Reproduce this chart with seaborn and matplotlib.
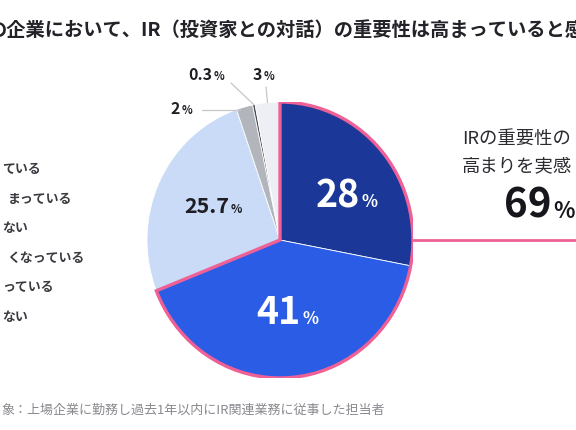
import numpy as np
import matplotlib
matplotlib.use("Agg")
import matplotlib.pyplot as plt
from matplotlib.patches import Wedge
from matplotlib.transforms import IdentityTransform
import seaborn as sns

# === Data ===
answers = ["大いに高まっている", "やや高まっている", "変わらない",
           "やや低くなっている", "低くなっている", "わからない"]
shares = [28, 41, 25.7, 2, 0.3, 3]
share_text = ["28", "41", "25.7", "2", "0.3", "3"]
colors = ["#1b3898", "#2a5ce6", "#c9dbf6", "#b3b5bc", "#4b4c52", "#eeeff4"]
legend_fragments = ["ている", "まっている", "ない", "くなっている", "っている", "ない"]
highlight_total = 69

PINK = "#ef6196"
W, H = 576, 430

sns.set_theme(style="white")
plt.rcParams['font.family'] = ['Noto Sans CJK JP', 'DejaVu Sans']

fig = plt.figure(figsize=(W / 100, H / 100), dpi=100)
fig.patch.set_facecolor("white")

# pie axes: centre (280, 240) px from top-left, radius ~133 x 138 px
cx, cy, rx, ry = 280, 240, 133, 138
ax = fig.add_axes([(cx - rx) / W, (H - cy - ry) / H, 2 * rx / W, 2 * ry / H])

wedges, _ = ax.pie(shares, colors=colors, startangle=90, counterclock=False,
                   radius=1, wedgeprops=dict(edgecolor="white", linewidth=0.6))
ax.set_xlim(-1, 1)
ax.set_ylim(-1, 1)
ax.set_aspect("auto")
ax.axis("off")

# === Pink outline around the "高まっている" share ===
ax.add_patch(Wedge((0, 0), 1, 90 - 360 * highlight_total / 100, 90,
                   fill=False, edgecolor=PINK, linewidth=2.4, zorder=5))
ax.plot([1, 2.3], [0, 0], color=PINK, lw=2.0, clip_on=False, zorder=5)

ident = IdentityTransform()


def top(y):
    return H - y


def pct_label(x, y, num, size, pct_size, color, weight="bold"):
    # x, y in display pixels; number ends at x, smaller % follows
    fig.text(x, y, num, transform=ident, ha="right", va="baseline",
             fontsize=size, fontweight=weight, color=color)
    fig.text(x + 2, y, "%", transform=ident, ha="left", va="baseline",
             fontsize=pct_size, fontweight=weight, color=color)


# cumulative angles (clockwise from top)
bounds = np.cumsum([0] + shares)
mids = (bounds[:-1] + bounds[1:]) / 2 * 3.6


def on_pie(angle_deg, r):
    a = np.radians(angle_deg)
    return ax.transData.transform((r * np.sin(a), r * np.cos(a)))


# === Labels inside the pie ===
for i, (r, size, psize, col, shift, drop) in enumerate([
        (0.60, 27, 12, "white", 18, 20),
        (0.52, 27, 12, "white", 14, 13),
        (0.57, 15.5, 8.5, "#1e1e24", 18, 6)]):
    px, py = on_pie(mids[i], r)
    pct_label(px + shift, py - drop, share_text[i], size, psize, col)

# === Small slices: labels with leader lines ===
small = [
    (3, (180, top(114)), (240, top(110)), (202, top(110))),
    (4, (212, top(80)), None, (231, top(83))),
    (5, (262, top(80)), None, (266, top(87))),
]
inv = fig.transFigure.inverted()
for idx, lab_pos, end_pt, start_pt in small:
    pct_label(lab_pos[0], lab_pos[1], share_text[idx], 11.5, 8, "#1e1e24")
    if end_pt is None:
        end_pt = on_pie(mids[idx], 1.0)
    p0 = inv.transform(start_pt)
    p1 = inv.transform(end_pt)
    fig.add_artist(plt.Line2D([p0[0], p1[0]], [p0[1], p1[1]],
                              color="#c4c6cc", lw=0.9, zorder=1))

# === Right callout ===
fig.text(462, top(139), "IRの重要性の", transform=ident, ha="left",
         va="center", fontsize=13.2, color="#2a2a30")
fig.text(462, top(166), "高まりを実感", transform=ident, ha="left",
         va="center", fontsize=13.2, color="#2a2a30")
fig.text(551, top(218), str(highlight_total), transform=ident, ha="right",
         va="baseline", fontsize=29, fontweight="bold", color="#16161c")
fig.text(553, top(218), "%", transform=ident, ha="left",
         va="baseline", fontsize=16, fontweight="bold", color="#16161c")

# === Legend fragments (cropped on the left) ===
legend_x = [2, 8, 2, 7, 2, 2]
legend_y = [169, 199, 228, 258, 287, 317]
for txt, lx, ly in zip(legend_fragments, legend_x, legend_y):
    fig.text(lx, top(ly), txt, transform=ident, ha="left", va="center",
             fontsize=9.3, fontweight="bold", color="#3a3a40")

# === Title and footnote ===
fig.text(-12, top(30), "の企業において、IR（投資家との対話）の重要性は高まっていると感じますか",
         transform=ident, ha="left", va="center", fontsize=13.9,
         fontweight="bold", color="#222228")
fig.text(1, top(410), "象：上場企業に勤務し過去1年以内にIR関連業務に従事した担当者",
         transform=ident, ha="left", va="center", fontsize=9.4,
         color="#8a8a90")

fig.savefig("out.png", dpi=100, facecolor="white")
